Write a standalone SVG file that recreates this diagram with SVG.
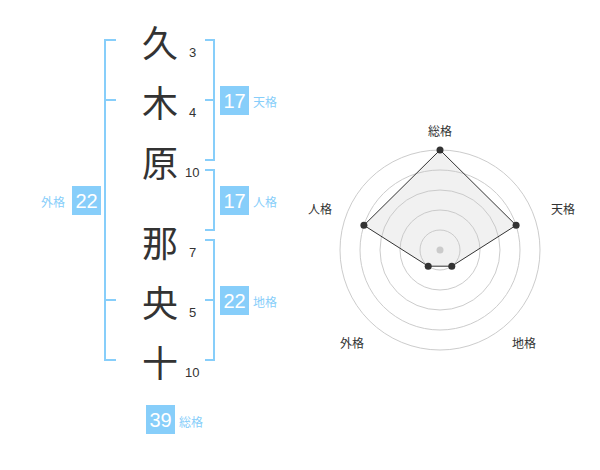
<svg xmlns="http://www.w3.org/2000/svg" width="600" height="470" viewBox="0 0 600 470">
<style>
.kj{font-family:"Noto Sans CJK JP","Noto Sans CJK SC",sans-serif;font-size:36px;fill:#333;text-anchor:middle;dominant-baseline:central}
.st{font-family:"Liberation Sans",Arial,sans-serif;font-size:13px;fill:#333;dominant-baseline:central}
.br{fill:none;stroke:#87cefa;stroke-width:2}
.box{fill:#87cefa}
.bn{font-family:"Liberation Sans",Arial,sans-serif;font-size:20px;fill:#fff;text-anchor:middle;dominant-baseline:central}
.bl{font-family:"Noto Sans CJK JP","Noto Sans CJK SC",sans-serif;font-size:12px;fill:#87cefa;dominant-baseline:central}
.rl{font-family:"Noto Sans CJK JP","Noto Sans CJK SC",sans-serif;font-size:12px;fill:#333;text-anchor:middle;dominant-baseline:central}
.ring{fill:none;stroke:#ccc;stroke-width:1}
.pt{fill:#333}
</style>
<g id="chars">
<text class="kj" x="160" y="41">久</text>
<text class="kj" x="160" y="101">木</text>
<text class="kj" x="160" y="161">原</text>
<text class="kj" x="160" y="241">那</text>
<text class="kj" x="160" y="301">央</text>
<text class="kj" x="160" y="361">十</text>
</g>
<g id="strokes">
<text class="st" x="189" y="52">3</text>
<text class="st" x="189" y="112">4</text>
<text class="st" x="185" y="172">10</text>
<text class="st" x="189" y="252">7</text>
<text class="st" x="189" y="312">5</text>
<text class="st" x="185" y="372">10</text>
</g>
<g id="connectors">
<path class="br" d="M116,40H105V360H116M105,100H116M105,300H116"/>
<path class="br" d="M205,40H214V160H205M205,100H214"/>
<path class="br" d="M205,170H214V230H205"/>
<path class="br" d="M205,240H214V360H205M205,300H214"/>
</g>
<g id="tenkaku">
<rect class="box" x="220" y="86" width="29" height="29"/>
<text class="bn" x="234.5" y="101">17</text>
<text class="bl" x="253" y="101">天格</text>
</g>
<g id="jinkaku">
<rect class="box" x="220" y="186" width="29" height="29"/>
<text class="bn" x="234.5" y="201">17</text>
<text class="bl" x="253" y="201">人格</text>
</g>
<g id="chikaku">
<rect class="box" x="220" y="286" width="29" height="29"/>
<text class="bn" x="234.5" y="301">22</text>
<text class="bl" x="253" y="301">地格</text>
</g>
<g id="gaikaku">
<rect class="box" x="72" y="186" width="29" height="29"/>
<text class="bn" x="86.5" y="201">22</text>
<text class="bl" x="41" y="201">外格</text>
</g>
<g id="soukaku">
<rect class="box" x="146" y="405" width="29" height="29"/>
<text class="bn" x="160.5" y="420">39</text>
<text class="bl" x="179" y="421">総格</text>
</g>
<g id="radar">
<circle class="ring" cx="440" cy="250" r="20"/>
<circle class="ring" cx="440" cy="250" r="40"/>
<circle class="ring" cx="440" cy="250" r="60"/>
<circle class="ring" cx="440" cy="250" r="80"/>
<circle class="ring" cx="440" cy="250" r="100"/>
<circle cx="440" cy="250" r="3.5" fill="#ccc"/>
<polygon points="440,150 516.1,225.3 451.8,266.2 428.2,266.2 363.9,225.3" fill="rgba(200,200,200,0.25)" stroke="#333" stroke-width="1"/>
<circle class="pt" cx="440" cy="150" r="3.5"/>
<circle class="pt" cx="516.1" cy="225.3" r="3.5"/>
<circle class="pt" cx="451.8" cy="266.2" r="3.5"/>
<circle class="pt" cx="428.2" cy="266.2" r="3.5"/>
<circle class="pt" cx="363.9" cy="225.3" r="3.5"/>
<text class="rl" x="440" y="130">総格</text>
<text class="rl" x="563" y="208">天格</text>
<text class="rl" x="320" y="208">人格</text>
<text class="rl" x="352" y="342">外格</text>
<text class="rl" x="524" y="342">地格</text>
</g>
</svg>
